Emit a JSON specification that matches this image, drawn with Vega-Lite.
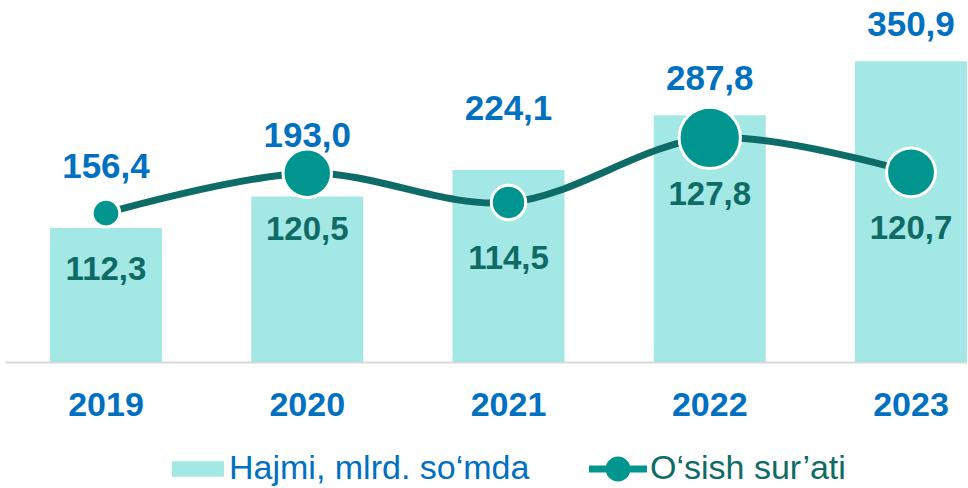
{
  "$schema": "https://vega.github.io/schema/vega-lite/v6.json",
  "width": 962,
  "height": 362,
  "padding": {"left": 5, "top": 0, "right": 0, "bottom": 0},
  "background": "white",
  "config": {
    "view": {"stroke": null},
    "font": "Liberation Sans",
    "locale": {"number": {"decimal": ",", "thousands": " ", "grouping": [3], "currency": ["", ""]}}
  },
  "data": {
    "values": [
      {"year": "2019", "volume": 156.4, "growth": 112.3},
      {"year": "2020", "volume": 193.0, "growth": 120.5},
      {"year": "2021", "volume": 224.1, "growth": 114.5},
      {"year": "2022", "volume": 287.8, "growth": 127.8},
      {"year": "2023", "volume": 350.9, "growth": 120.7}
    ]
  },
  "encoding": {
    "x": {
      "field": "year", "type": "nominal", "sort": null,
      "scale": {"paddingInner": 0.4436, "paddingOuter": 0.1118, "align": 1},
      "axis": {
        "title": null, "labelAngle": 0, "ticks": false, "grid": false,
        "domainColor": "#d9d9d9", "domainWidth": 2,
        "labelFontSize": 34, "labelFontWeight": "bold", "labelColor": "#0070c0",
        "labelFont": "Liberation Sans", "labelPadding": 26
      }
    }
  },
  "layer": [
    {
      "encoding": {
        "y": {"field": "volume", "type": "quantitative", "scale": {"domain": [0, 422.4], "nice": false}, "axis": null}
      },
      "layer": [
        {
          "mark": {"type": "bar"},
          "encoding": {
            "color": {
              "datum": "Hajmi, mlrd. so‘mda",
              "scale": {"range": ["#a3e8e4"]},
              "legend": {
                "orient": "none", "legendX": 167, "legendY": 443, "title": null,
                "symbolType": "M-1,-0.3H1V0.3H-1Z", "symbolSize": 2704, "symbolStrokeWidth": 0,
                "labelFontSize": 34, "labelColor": "#0070c0", "labelFont": "Liberation Sans",
                "labelOffset": 5, "padding": 0, "labelLimit": 0
              }
            }
          }
        },
        {
          "transform": [{"filter": "datum.year < '2022'"}],
          "mark": {"type": "text", "baseline": "alphabetic", "dy": -50, "fontSize": 35, "fontWeight": "bold", "color": "#0070c0", "font": "Liberation Sans"},
          "encoding": {"text": {"field": "volume", "type": "quantitative", "format": ".1f"}}
        },
        {
          "transform": [{"filter": "datum.year >= '2022'"}],
          "mark": {"type": "text", "baseline": "alphabetic", "dy": -25, "fontSize": 35, "fontWeight": "bold", "color": "#0070c0", "font": "Liberation Sans"},
          "encoding": {"text": {"field": "volume", "type": "quantitative", "format": ".1f"}}
        }
      ]
    },
    {
      "encoding": {
        "y": {"field": "growth", "type": "quantitative", "scale": {"domain": [81.65, 156.18], "nice": false, "zero": false}, "axis": null}
      },
      "layer": [
        {
          "mark": {"type": "line", "interpolate": "catmull-rom", "strokeWidth": 7, "color": "#0e6c68"},
          "encoding": {}
        },
        {
          "mark": {"type": "circle", "opacity": 1, "stroke": "white", "strokeWidth": 3},
          "encoding": {
            "size": {"field": "growth", "type": "quantitative", "scale": {"domain": [112, 128], "range": [700, 3800], "zero": false}, "legend": null},
            "fill": {
              "datum": "O‘sish sur’ati",
              "scale": {"range": ["#00968f"]},
              "legend": {
                "orient": "none", "legendX": 584, "legendY": 440, "title": null,
                "symbolType": "M-1,-0.12H-0.42V0.12H-1Z M0.42,-0.12H1V0.12H0.42Z M0.43,0A0.43,0.43 0 1,1 -0.43,0A0.43,0.43 0 1,1 0.43,0Z",
                "symbolSize": 3364, "symbolStrokeWidth": 0, "symbolFillColor": "#00968f",
                "labelFontSize": 34, "labelColor": "#0e6b66", "labelFont": "Liberation Sans",
                "labelOffset": 3, "padding": 0, "labelLimit": 0
              }
            }
          }
        },
        {
          "mark": {"type": "text", "baseline": "alphabetic", "dy": 67, "fontSize": 33, "fontWeight": "bold", "color": "#0e6b66", "font": "Liberation Sans"},
          "encoding": {"text": {"field": "growth", "type": "quantitative", "format": ".1f"}}
        }
      ]
    }
  ],
  "resolve": {"scale": {"y": "independent"}}
}
